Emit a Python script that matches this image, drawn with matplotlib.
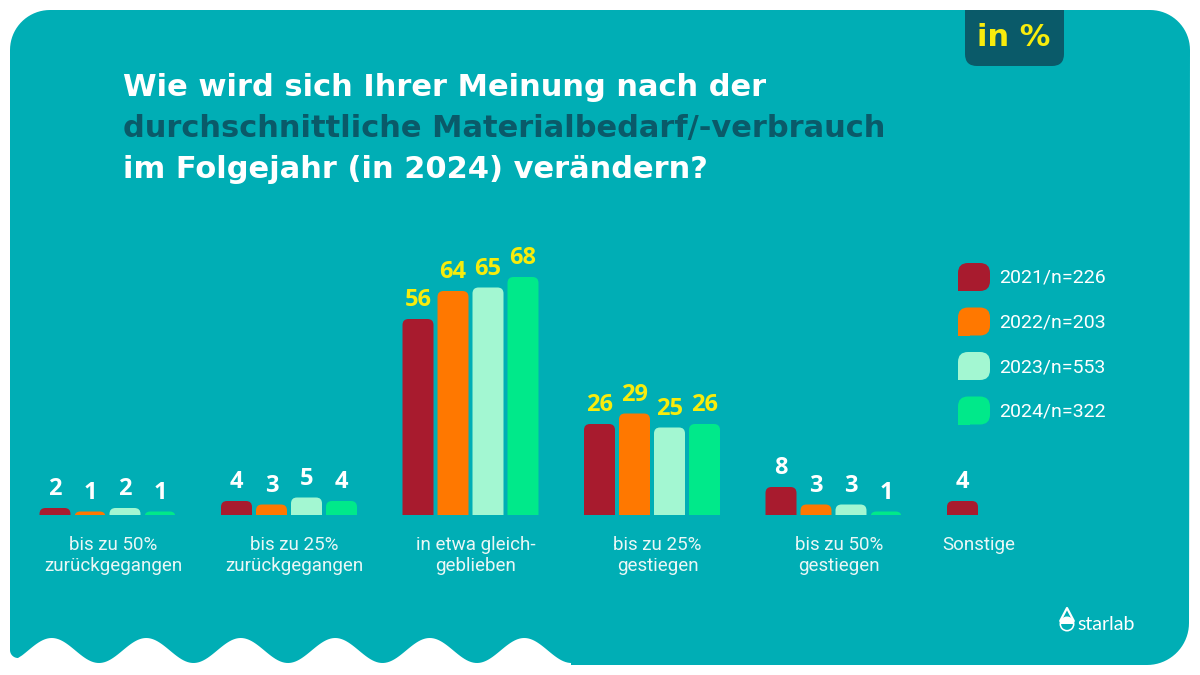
import matplotlib

matplotlib.use("Agg")
import matplotlib.pyplot as plt
import numpy as np
from matplotlib.patches import FancyBboxPatch, Rectangle, Wedge, Polygon

# ---- data -----------------------------------------------------------------
categories = [
    "bis zu 50%\nzurückgegangen",
    "bis zu 25%\nzurückgegangen",
    "in etwa gleich-\ngeblieben",
    "bis zu 25%\ngestiegen",
    "bis zu 50%\ngestiegen",
    "Sonstige",
]
series_labels = ["2021/n=226", "2022/n=203", "2023/n=553", "2024/n=322"]
v2021 = [2, 4, 56, 26, 8, 4]
v2022 = [1, 3, 64, 29, 3, None]
v2023 = [2, 5, 65, 25, 3, None]
v2024 = [1, 4, 68, 26, 1, None]
series_values = [v2021, v2022, v2023, v2024]

# ---- style ----------------------------------------------------------------
TEAL = "#00aeb5"
DARK = "#0a5a69"
YELLOW = "#f8ec0c"
LABEL = "#eaf7f6"
colors = ["#a81b2e", "#ff7800", "#a3f7d2", "#00e98a"]
TITLE_FONT = ["DejaVu Sans"]
TEXT_FONT = ["Roboto", "DejaVu Sans"]

W, H = 1200, 675
fig = plt.figure(figsize=(W / 100, H / 100), dpi=100)
fig.patch.set_facecolor("white")

# background layer in pixel coordinates
bg = fig.add_axes([0, 0, 1, 1])
bg.set_xlim(0, W)
bg.set_ylim(H, 0)
bg.axis("off")


def arc(cx, cy, r, a0, a1, n=20):
    t = np.radians(np.linspace(a0, a1, n))
    return list(zip(cx + r * np.cos(t), cy + r * np.sin(t)))


# panel outline: rounded top, wavy bottom on the left part
pts = []
pts += arc(50, 50, 40, 180, 270)          # top-left corner
pts += arc(1150, 50, 40, 270, 360)        # top-right corner
pts += arc(1147, 623, 42, 0, 90)          # bottom-right corner
pts += [(571, 665)]
xs = np.linspace(571, 22, 300)
pts += list(zip(xs, 650.5 + 12.5 * np.cos(2 * np.pi * (xs - 99) / 94.5)))
pts += arc(18, 650, 8, 90, 180)
panel = Polygon(pts, closed=True, facecolor=TEAL, edgecolor="none", zorder=0)
bg.add_patch(panel)

# "in %" tab
bg.add_patch(FancyBboxPatch((965, 10), 99, 56, boxstyle="round,pad=0,rounding_size=12",
                            facecolor=DARK, edgecolor="none", zorder=1))
bg.add_patch(Rectangle((965, 10), 99, 20, facecolor=DARK, edgecolor="none", zorder=1))
bg.text(1014, 38, "in %", color=YELLOW, fontsize=22, fontweight="bold",
        family=TITLE_FONT, ha="center", va="center", zorder=2)

# title
title_lines = [
    ("Wie wird sich Ihrer Meinung nach der", "white"),
    ("durchschnittliche Materialbedarf/-verbrauch", DARK),
    ("im Folgejahr (in 2024) verändern?", "white"),
]
for i, (line, col) in enumerate(title_lines):
    bg.text(123, 88 + i * 41, line, color=col, fontsize=22, fontweight="bold",
            family=TITLE_FONT, ha="left", va="center")

# legend
for i, (lab, col) in enumerate(zip(series_labels, colors)):
    y0 = 263 + i * 44.5
    bg.add_patch(FancyBboxPatch((958, y0), 32, 28, boxstyle="round,pad=0,rounding_size=10",
                                facecolor=col, edgecolor="none"))
    bg.add_patch(Rectangle((958, y0 + 16), 12, 12, facecolor=col, edgecolor="none"))
    bg.text(999, y0 + 15, lab, color="white", fontsize=14, family=TEXT_FONT,
            ha="left", va="center")

# logo
bg.add_patch(Wedge((1067, 624), 7.5, 0, 180, width=1.6, facecolor="white", edgecolor="none"))
bg.add_patch(Wedge((1067, 624), 7.5, 180, 360, facecolor="white", edgecolor="none"))
bg.plot([1060.2, 1067, 1073.8], [621, 608, 621], color="white", lw=1.6, solid_capstyle="round")
bg.text(1077, 625, "starlab", color="white", fontsize=14, family=["Lato", "DejaVu Sans"],
        ha="left", va="center")

# ---- bar chart --------------------------------------------------------------
base_px, top_px = 515, 200
px_per_unit_y = 3.5
group_px = 181.5
first_px = 107.5
ymax = (base_px - top_px) / px_per_unit_y

ax = fig.add_axes([0, (H - base_px) / H, 1, (base_px - top_px) / H])
ax.set_xlim(-first_px / group_px, (W - first_px) / group_px)
ax.set_ylim(0, ymax)
ax.axis("off")
ax.patch.set_alpha(0)

bar_w = 31 / group_px
step = 35 / group_px
aspect = group_px / px_per_unit_y
rad_px = 6
ext_px = 8

x = np.arange(len(categories))
for s, (vals, col) in enumerate(zip(series_values, colors)):
    for g, v in enumerate(vals):
        if v is None:
            continue
        xc = x[g] + (s - 1.5) * step
        total_px = v * px_per_unit_y + ext_px
        r = min(rad_px, total_px / 2) / group_px
        ext = ext_px / px_per_unit_y
        bar = FancyBboxPatch((xc - bar_w / 2, -ext), bar_w, v + ext,
                             boxstyle=f"round,pad=0,rounding_size={r}",
                             mutation_aspect=aspect, facecolor=col, edgecolor="none")
        ax.add_patch(bar)
        ax.annotate(str(v), (xc, v), xytext=(0, 5), textcoords="offset points",
                    ha="center", va="bottom", fontsize=17, fontweight="bold",
                    family=["Open Sans", "DejaVu Sans"],
                    color=YELLOW if g in (2, 3) else "white")

for g, cat in enumerate(categories):
    n_bars = sum(vals[g] is not None for vals in series_values)
    xc = x[g] + 0.03 if n_bars > 1 else x[g] - 1.5 * step + 0.09
    ax.annotate(cat, (xc, 0), xytext=(0, -15), textcoords="offset points",
                ha="center", va="top", fontsize=13.5, family=TEXT_FONT,
                color=LABEL, linespacing=1.25, annotation_clip=False)

fig.savefig("out.png", dpi=100, facecolor="white")
